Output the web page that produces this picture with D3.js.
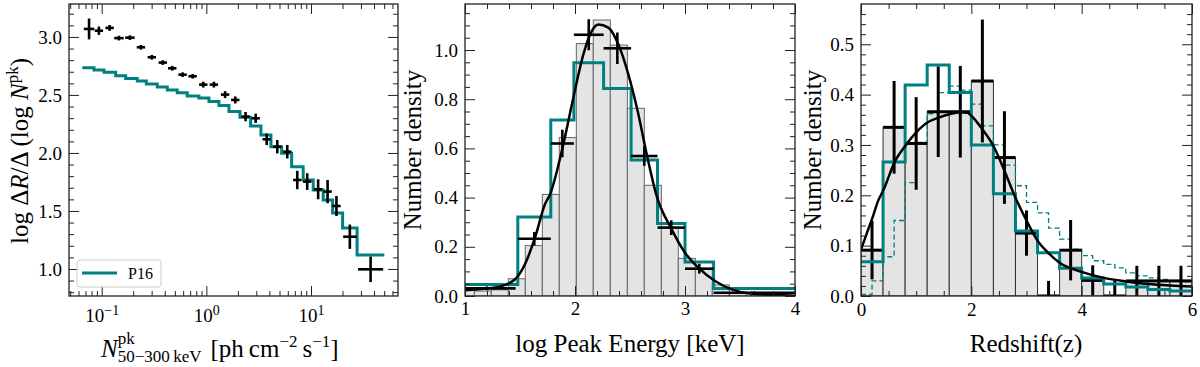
<!DOCTYPE html>
<html>
<head>
<meta charset="utf-8">
<script src="https://cdn.jsdelivr.net/npm/d3@7"></script>
<style>
body{margin:0;background:#fff;}
svg text{font-family:"Liberation Serif",serif;fill:#000;}
</style>
</head>
<body>
<svg id="fig" width="1200" height="367"></svg>
<script>
// ---------- panel 1: rate vs peak flux ----------
const fluxX = [0.0757,0.094,0.119,0.146,0.186,0.237,0.301,0.383,0.472,0.593,0.739,0.934,1.18,1.51,1.89,2.37,2.96,3.77,4.76,5.93,7.39,9.2,11.7,14.4,17.5,23.5,37.1];
const fluxRate = [3.069,3.054,3.078,2.99,2.994,2.911,2.825,2.779,2.730,2.675,2.661,2.589,2.589,2.503,2.457,2.313,2.299,2.118,2.054,2.011,1.767,1.753,1.687,1.667,1.543,1.278,0.997];
const fluxXErr = [0.05,0.04,0.04,0.045,0.045,0.04,0.04,0.04,0.04,0.04,0.04,0.04,0.04,0.04,0.04,0.04,0.04,0.04,0.04,0.04,0.04,0.04,0.04,0.04,0.04,0.064,0.12]; // dex
const fluxYErr = [0.09,0.036,0.025,0.02,0.02,0.02,0.02,0.02,0.02,0.02,0.02,0.025,0.025,0.03,0.03,0.04,0.04,0.05,0.058,0.058,0.079,0.072,0.086,0.1,0.086,0.105,0.11];
const p16FluxEdges = [0.0653,0.0844,0.1052,0.136,0.1695,0.2188,0.2667,0.3397,0.4233,0.527,0.657,0.849,1.059,1.319,1.644,2.094,2.649,3.323,4.14,5.24,6.53,8.42,10.50,13.08,16.08,20.04,27.56,50.2];
const p16FluxLevels = [2.735,2.716,2.696,2.666,2.641,2.621,2.595,2.569,2.543,2.520,2.491,2.474,2.444,2.409,2.358,2.308,2.233,2.155,2.054,1.997,1.882,1.767,1.681,1.595,1.483,1.353,1.121];
const fluxXTicks = [0.1,1,10];
const fluxYTicks = [1.0,1.5,2.0,2.5,3.0];

// ---------- panel 2: peak energy ----------
const epBarEdges = [0.930,1.085,1.239,1.394,1.548,1.703,1.857,2.012,2.166,2.321,2.476,2.630,2.785,2.939,3.094,3.248,3.403,3.557,3.712,3.867];
const epBarHeights = [0.025,0.02,0.025,0.07,0.205,0.413,0.644,1.026,1.122,1.02,0.763,0.45,0.28,0.153,0.11,0.045,0.015,0.01,0.005];
const epCrossX = [1.2,1.63,1.885,2.125,2.385,2.63,2.875,3.13,3.63];
const epCrossXErr = [0.26,0.15,0.105,0.135,0.125,0.12,0.125,0.13,0.37];
const epCrossY = [0.031,0.233,0.62,1.062,1.007,0.569,0.278,0.111,0.013];
const epCrossYErr = [0.008,0.027,0.056,0.063,0.064,0.04,0.03,0.02,0.006];
const epP16Edges = [0.9,1.48,1.78,1.99,2.26,2.51,2.75,3.0,3.26,4.1];
const epP16Levels = [0.047,0.321,0.715,0.948,0.844,0.553,0.295,0.138,0.03];
const epFitX = [1.0,1.303,1.455,1.545,1.636,1.727,1.773,1.894,1.985,2.076,2.152,2.212,2.303,2.394,2.485,2.576,2.652,2.742,2.879,3.0,3.121,3.273,3.424,3.606,3.879,4.0];
const epFitY = [0.023,0.037,0.068,0.129,0.237,0.373,0.413,0.617,0.806,0.982,1.077,1.104,1.091,1.023,0.901,0.739,0.576,0.407,0.271,0.176,0.115,0.061,0.027,0.009,0.003,0.001];
const epXTicks = [1,2,3,4];
const epYTicks = [0.0,0.2,0.4,0.6,0.8,1.0];

// ---------- panel 3: redshift ----------
const zBarEdges = [0,0.4,0.8,1.2,1.6,2.0,2.4,2.8,3.2,3.6,4.0,4.4,4.8,5.2,5.6,6.0];
const zBarHeights = [0.091,0.335,0.303,0.366,0.366,0.427,0.275,0.125,0,0.091,0.031,0,0.03,0.03,0.03];
const zErr = [0.058,0.092,0.092,0.09,0.091,0.122,0.092,0.045,0.03,0.06,0.03,0.03,0.03,0.03,0.03];
const zP16Levels = [0.068,0.266,0.419,0.459,0.404,0.300,0.203,0.129,0.086,0.055,0.036,0.024,0.018,0.013,0.010];
const zDashEdges = [0,0.2,0.4,0.6,0.8,1.0,1.2,1.4,1.6,1.8,2.0,2.2,2.4,2.6,2.8,3.0,3.2,3.4,3.6,3.8,4.0,4.2,4.4,4.6,4.8,5.0,5.2,5.4,5.6,5.8,6.0];
const zDashLevels = [0.003,0.03,0.078,0.150,0.225,0.305,0.362,0.404,0.417,0.409,0.381,0.338,0.300,0.260,0.219,0.186,0.165,0.135,0.113,0.093,0.08,0.07,0.063,0.056,0.046,0.04,0.036,0.033,0.03,0.028];
const zFitX = [0,0.1,0.21,0.31,0.405,0.617,0.8,1.01,1.21,1.4,1.6,1.8,1.93,2.0,2.2,2.4,2.6,2.8,3.0,3.2,3.4,3.6,4.0,4.4,4.8,5.2,5.6,6.0];
const zFitY = [0.092,0.123,0.156,0.189,0.21,0.268,0.298,0.326,0.345,0.354,0.361,0.365,0.364,0.358,0.331,0.298,0.249,0.195,0.15,0.11,0.085,0.066,0.048,0.036,0.029,0.024,0.021,0.019];
const zXTicks = [0,2,4,6];
const zYTicks = [0.0,0.1,0.2,0.3,0.4,0.5];

const TEAL = '#008080';
const svg = d3.select('#fig');
const TOP = 4, BOTTOM = 296;
const LABEL = '25px', SMALL = '17px', TICK = '19px';

function panel(id, left, right){
	const g = svg.append('g').attr('transform', `translate(${left},${TOP})`);
	const w = right - left, h = BOTTOM - TOP;
	g.append('clipPath').attr('id', 'clip-'+id)
		.append('rect').attr('width', w).attr('height', h);
	const plot = g.append('g').attr('clip-path', `url(#clip-${id})`);
	return {g, plot, w, h};
}

// inward ticks on all four sides, labels bottom and left
function ticks(p, x, y, t){
	const styleAxis = sel => {
		sel.select('.domain').remove();
		sel.selectAll('line').attr('stroke', '#222').attr('stroke-width', 1);
		sel.selectAll('text').style('font-size', TICK);
	};
	p.g.append('g').attr('transform', `translate(0,${p.h})`)
		.call(d3.axisBottom(x).tickValues(t.xMajor).tickSize(-10).tickPadding(t.xPad).tickFormat(t.xFmt))
		.call(styleAxis).attr('class', 'xlab');
	p.g.append('g').attr('transform', `translate(0,${p.h})`)
		.call(d3.axisBottom(x).tickValues(t.xMinor).tickSize(-5).tickFormat('')).call(styleAxis);
	p.g.append('g').call(d3.axisTop(x).tickValues(t.xMajor).tickSize(-10).tickFormat('')).call(styleAxis);
	p.g.append('g').call(d3.axisTop(x).tickValues(t.xMinor).tickSize(-5).tickFormat('')).call(styleAxis);
	p.g.append('g')
		.call(d3.axisLeft(y).tickValues(t.yMajor).tickSize(-10).tickPadding(7).tickFormat(t.yFmt))
		.call(styleAxis);
	p.g.append('g').call(d3.axisLeft(y).tickValues(t.yMinor).tickSize(-5).tickFormat('')).call(styleAxis);
	p.g.append('g').attr('transform', `translate(${p.w},0)`)
		.call(d3.axisRight(y).tickValues(t.yMajor).tickSize(-10).tickFormat('')).call(styleAxis);
	p.g.append('g').attr('transform', `translate(${p.w},0)`)
		.call(d3.axisRight(y).tickValues(t.yMinor).tickSize(-5).tickFormat('')).call(styleAxis);
	p.g.append('rect').attr('width', p.w).attr('height', p.h)
		.attr('fill', 'none').attr('stroke', '#222').attr('stroke-width', 1.3);
}

function minorRange(lo, hi, step, majors){
	return d3.range(Math.round(lo/step), Math.round(hi/step)+1)
		.map(k => +(k*step).toFixed(4))
		.filter(v => !majors.some(m => Math.abs(m-v) < 1e-6));
}

function stepLine(edges, levels){
	return edges.map((e,i) => ({x: e, y: levels[Math.min(i, levels.length-1)]}));
}

function crosses(plot, x, y, cx, cy, xlo, xhi, ylo, yhi, sw){
	const c = plot.append('g').attr('stroke', '#000').attr('stroke-width', sw);
	cx.forEach((v,i) => {
		c.append('line').attr('x1', x(xlo[i])).attr('x2', x(xhi[i]))
			.attr('y1', y(cy[i])).attr('y2', y(cy[i]));
		c.append('line').attr('x1', x(v)).attr('x2', x(v))
			.attr('y1', y(ylo[i])).attr('y2', y(yhi[i]));
	});
}

function bars(plot, x, y, edges, heights, stroke){
	plot.append('g').selectAll('rect').data(heights).join('rect')
		.attr('x', (d,i) => x(edges[i]))
		.attr('width', (d,i) => x(edges[i+1]) - x(edges[i]))
		.attr('y', d => y(d))
		.attr('height', d => y(0) - y(d))
		.attr('fill', '#e4e4e4')
		.attr('stroke', stroke)
		.attr('stroke-width', 1);
}

// ================= panel 1 =================
{
	const p = panel('a', 69, 398);
	const x = d3.scaleLog().domain([0.04869, 67.8]).range([0, p.w]);
	const y = d3.scaleLinear().domain([0.767, 3.284]).range([p.h, 0]);
	const line = d3.line().x(d => x(d.x)).y(d => y(d.y)).curve(d3.curveStepAfter);

	p.plot.append('path').datum(stepLine(p16FluxEdges, p16FluxLevels))
		.attr('d', line).attr('fill', 'none').attr('stroke', TEAL).attr('stroke-width', 3);

	crosses(p.plot, x, y, fluxX, fluxRate,
		fluxX.map((v,i) => v/Math.pow(10, fluxXErr[i])),
		fluxX.map((v,i) => v*Math.pow(10, fluxXErr[i])),
		fluxRate.map((v,i) => v - fluxYErr[i]),
		fluxRate.map((v,i) => v + fluxYErr[i]), 2.6);

	const xMinor = [];
	[-2,-1,0,1].forEach(e => d3.range(2,10).forEach(m => {
		const v = m*Math.pow(10,e);
		if (v > 0.04869 && v < 67.8) xMinor.push(v);
	}));
	ticks(p, x, y, {
		xMajor: fluxXTicks, xMinor: xMinor, xPad: 13, xFmt: () => '',
		yMajor: fluxYTicks, yMinor: minorRange(0.8, 3.2, 0.1, fluxYTicks), yFmt: d3.format('.1f')
	});
	// 10^n labels
	p.g.select('.xlab').selectAll('.tick text').each(function(d){
		const t = d3.select(this);
		const e = Math.round(Math.log10(d));
		t.append('tspan').text('10');
		t.append('tspan').attr('dy', '-0.5em').style('font-size', '14px')
			.text(e < 0 ? '\u2212' + (-e) : e);
	});

	// legend
	const lg = p.g.append('g').attr('transform', 'translate(8,256)');
	lg.append('rect').attr('width', 84).attr('height', 27).attr('rx', 3)
		.attr('fill', '#fff').attr('fill-opacity', 0.8).attr('stroke', '#ccc');
	lg.append('line').attr('x1', 5).attr('x2', 40).attr('y1', 13).attr('y2', 13)
		.attr('stroke', TEAL).attr('stroke-width', 3);
	lg.append('text').attr('x', 51).attr('y', 19).style('font-size', '16px').text('P16');

	// axis labels
	const xl = svg.append('text').attr('x', 101).attr('y', 357).style('font-size', LABEL);
	xl.append('tspan').style('font-style', 'italic').text('N');
	xl.append('tspan').attr('dy', -13).style('font-size', SMALL).text('pk');
	xl.append('tspan').attr('dx', -17).attr('dy', 18).style('font-size', SMALL).text('50\u2212300\u2009keV');
	xl.append('tspan').attr('dx', 9).attr('dy', -5).text('[ph\u2009cm');
	xl.append('tspan').attr('dy', -10).style('font-size', SMALL).text('\u22122');
	xl.append('tspan').attr('dy', 10).text('\u2009s');
	xl.append('tspan').attr('dy', -10).style('font-size', SMALL).text('\u22121');
	xl.append('tspan').attr('dy', 10).text(']');

	const yl = svg.append('text').attr('transform', 'translate(28,151) rotate(-90)')
		.attr('text-anchor', 'middle').style('font-size', LABEL);
	yl.append('tspan').text('log \u0394');
	yl.append('tspan').style('font-style', 'italic').text('R');
	yl.append('tspan').text('/\u0394 (log ');
	yl.append('tspan').style('font-style', 'italic').text('N');
	yl.append('tspan').attr('dy', -10).style('font-size', SMALL).text('pk');
	yl.append('tspan').attr('dy', 10).text(')');
}

// ================= panel 2 =================
{
	const p = panel('b', 465, 795);
	const x = d3.scaleLinear().domain([1, 4]).range([0, p.w]);
	const y = d3.scaleLinear().domain([0, 1.183 * (p.h/291)]).range([p.h, 0]);
	const step = d3.line().x(d => x(d.x)).y(d => y(d.y)).curve(d3.curveStepAfter);

	bars(p.plot, x, y, epBarEdges, epBarHeights, '#666');
	p.plot.append('path').datum(stepLine(epP16Edges, epP16Levels))
		.attr('d', step).attr('fill', 'none').attr('stroke', TEAL).attr('stroke-width', 3);
	crosses(p.plot, x, y, epCrossX, epCrossY,
		epCrossX.map((v,i) => v - epCrossXErr[i]), epCrossX.map((v,i) => v + epCrossXErr[i]),
		epCrossY.map((v,i) => v - epCrossYErr[i]), epCrossY.map((v,i) => v + epCrossYErr[i]), 2.6);
	p.plot.append('path').datum(epFitX.map((v,i) => [v, epFitY[i]]))
		.attr('d', d3.line().x(d => x(d[0])).y(d => y(d[1])).curve(d3.curveMonotoneX))
		.attr('fill', 'none').attr('stroke', '#000').attr('stroke-width', 2.5);

	ticks(p, x, y, {
		xMajor: epXTicks, xMinor: minorRange(1, 4, 0.2, epXTicks), xPad: 6, xFmt: d3.format('d'),
		yMajor: epYTicks, yMinor: minorRange(0, 1.15, 0.05, epYTicks), yFmt: d3.format('.1f')
	});
	svg.append('text').attr('x', 630).attr('y', 352).attr('text-anchor', 'middle')
		.style('font-size', LABEL).text('log Peak Energy [keV]');
	svg.append('text').attr('transform', 'translate(421,150) rotate(-90)').attr('text-anchor', 'middle')
		.style('font-size', LABEL).text('Number density');
}

// ================= panel 3 =================
{
	const p = panel('c', 861, 1192);
	const x = d3.scaleLinear().domain([0, 6]).range([0, p.w]);
	const y = d3.scaleLinear().domain([0, 0.578 * (p.h/291)]).range([p.h, 0]);
	const step = d3.line().x(d => x(d.x)).y(d => y(d.y)).curve(d3.curveStepAfter);

	bars(p.plot, x, y, zBarEdges, zBarHeights, '#333');
	p.plot.append('path').datum(stepLine(zDashEdges, zDashLevels))
		.attr('d', step).attr('fill', 'none').attr('stroke', TEAL).attr('stroke-width', 1.3)
		.attr('stroke-dasharray', '5,3');
	const zMid = zBarHeights.map((d,i) => (zBarEdges[i] + zBarEdges[i+1]) / 2);
	crosses(p.plot, x, y, zMid, zBarHeights,
		zBarEdges.slice(0, -1), zBarEdges.slice(1),
		zBarHeights.map((v,i) => v - zErr[i]), zBarHeights.map((v,i) => v + zErr[i]), 3);
	p.plot.append('path').datum(stepLine(zBarEdges, zP16Levels))
		.attr('d', step).attr('fill', 'none').attr('stroke', TEAL).attr('stroke-width', 3);
	p.plot.append('path').datum(zFitX.map((v,i) => [v, zFitY[i]]))
		.attr('d', d3.line().x(d => x(d[0])).y(d => y(d[1])).curve(d3.curveMonotoneX))
		.attr('fill', 'none').attr('stroke', '#000').attr('stroke-width', 2.5);

	ticks(p, x, y, {
		xMajor: zXTicks, xMinor: minorRange(0, 6, 0.5, zXTicks), xPad: 7, xFmt: d3.format('d'),
		yMajor: zYTicks, yMinor: minorRange(0, 0.57, 0.02, zYTicks), yFmt: d3.format('.1f')
	});
	svg.append('text').attr('x', 1026).attr('y', 352).attr('text-anchor', 'middle')
		.style('font-size', LABEL).text('Redshift(z)');
	svg.append('text').attr('transform', 'translate(821,150) rotate(-90)').attr('text-anchor', 'middle')
		.style('font-size', LABEL).text('Number density');
}
</script>
</body>
</html>
